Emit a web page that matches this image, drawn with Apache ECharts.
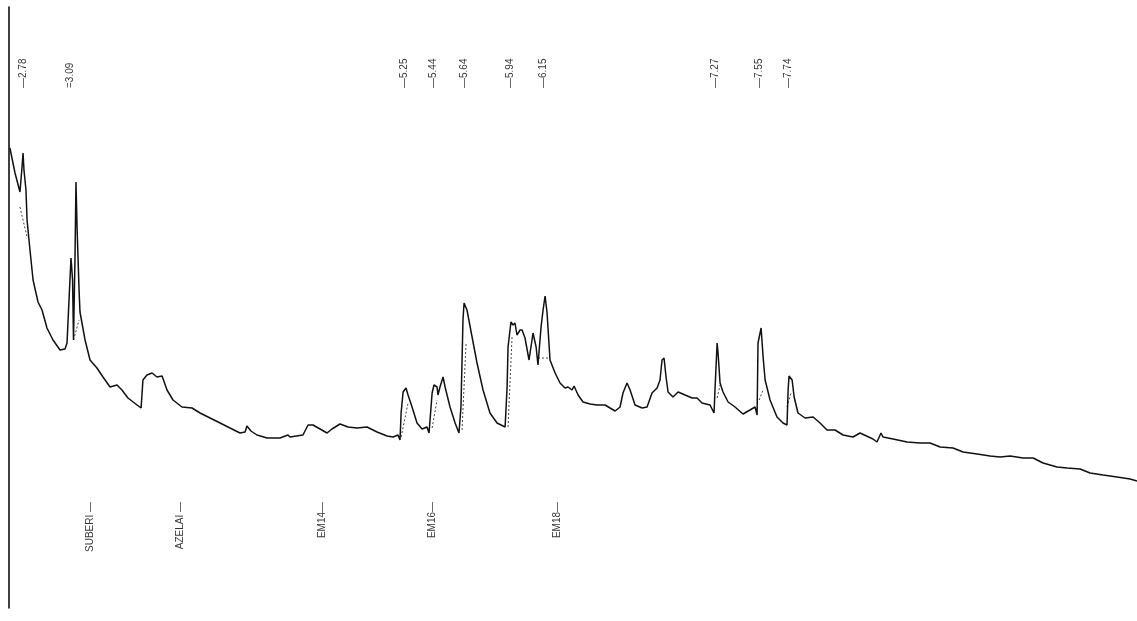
<!DOCTYPE html>
<html>
<head>
<meta charset="utf-8">
<script src="https://cdn.jsdelivr.net/npm/echarts@6/dist/echarts.min.js"></script>
<style>
  html, body { margin: 0; padding: 0; background: #fff; }
  #chart { width: 1137px; height: 621px; }
</style>
</head>
<body>
<div id="chart"></div>
<script>
// Retention time (min) and detector signal
const retentionTimes = [
  2.696, 2.729, 2.761, 2.774, 2.781, 2.787, 2.800, 2.807, 2.826, 2.846, 2.878, 2.904, 2.936, 2.975,
  3.021, 3.053, 3.066, 3.072, 3.085, 3.092, 3.102, 3.108, 3.118, 3.124, 3.131, 3.144, 3.150, 3.183,
  3.215, 3.260, 3.299, 3.345, 3.390, 3.422, 3.461, 3.520, 3.546, 3.558, 3.584, 3.617, 3.649, 3.682,
  3.714, 3.753, 3.811, 3.876, 3.928, 3.993, 4.058, 4.122, 4.187, 4.220, 4.232, 4.258, 4.297, 4.362,
  4.446, 4.498, 4.511, 4.595, 4.628, 4.660, 4.706, 4.751, 4.783, 4.835, 4.887, 4.945, 5.010, 5.075,
  5.140, 5.179, 5.211, 5.224, 5.231, 5.244, 5.263, 5.276, 5.302, 5.334, 5.367, 5.399, 5.412, 5.432,
  5.444, 5.464, 5.470, 5.483, 5.503, 5.516, 5.548, 5.581, 5.606, 5.619, 5.632, 5.639, 5.658, 5.691,
  5.723, 5.762, 5.807, 5.853, 5.905, 5.918, 5.924, 5.943, 5.956, 5.969, 5.982, 6.002, 6.015, 6.034,
  6.060, 6.086, 6.106, 6.118, 6.138, 6.151, 6.164, 6.177, 6.196, 6.229, 6.261, 6.293, 6.313, 6.339,
  6.352, 6.378, 6.410, 6.456, 6.501, 6.553, 6.585, 6.618, 6.650, 6.669, 6.695, 6.715, 6.747, 6.793,
  6.825, 6.857, 6.890, 6.909, 6.922, 6.935, 6.948, 6.961, 6.993, 7.026, 7.071, 7.117, 7.149, 7.181,
  7.233, 7.259, 7.266, 7.279, 7.285, 7.298, 7.317, 7.350, 7.395, 7.447, 7.492, 7.525, 7.538, 7.544,
  7.564, 7.577, 7.590, 7.603, 7.622, 7.667, 7.706, 7.732, 7.739, 7.745, 7.765, 7.778, 7.803, 7.849,
  7.901, 7.946, 7.991, 8.043, 8.095, 8.160, 8.205, 8.289, 8.315, 8.341, 8.354, 8.419, 8.510, 8.594,
  8.659, 8.724, 8.808, 8.873, 8.964, 9.048, 9.113, 9.178, 9.262, 9.327, 9.391, 9.482, 9.547, 9.631,
  9.696, 9.780, 9.871, 9.955, 10.000
];
const signals = [
  460, 435, 416, 440, 455, 438, 418, 388, 358, 328, 306, 298, 280, 268,
  258, 259, 265, 285, 328, 350, 328, 268, 353, 426, 381, 318, 296, 268,
  248, 240, 231, 221, 223, 218, 210, 203, 200, 228, 233, 235, 231, 232,
  218, 208, 201, 200, 195, 190, 185, 180, 175, 176, 182, 177, 173, 170,
  170, 173, 171, 173, 183, 183, 179, 175, 179, 184, 181, 180, 181, 176,
  172, 171, 173, 168, 195, 216, 220, 213, 201, 185, 179, 181, 175, 215,
  223, 221, 213, 221, 231, 221, 201, 185, 175, 201, 288, 305, 298, 271,
  245, 218, 195, 185, 181, 221, 261, 286, 283, 285, 273, 278, 278, 270,
  248, 275, 261, 243, 281, 298, 312, 295, 248, 235, 225, 220, 221, 218,
  222, 213, 206, 204, 203, 203, 200, 197, 201, 215, 225, 218, 203, 200,
  201, 215, 220, 228, 248, 250, 231, 216, 211, 216, 213, 210, 210, 205,
  203, 195, 221, 265, 255, 225, 216, 206, 201, 194, 198, 201, 193, 265,
  280, 251, 228, 220, 208, 191, 185, 183, 218, 232, 228, 211, 195, 190,
  191, 185, 178, 178, 173, 171, 175, 169, 166, 175, 171, 169, 166, 165,
  165, 161, 160, 156, 154, 152, 151, 152, 150, 150, 145, 141, 140, 139,
  135, 133, 131, 129, 127
];
// Dotted baseline drop segments under integrated peaks: [t1, s1, t2, s2]
const baselineSegments = [
  [2.761, 401, 2.807, 371],
  [3.108, 268, 3.144, 288],
  [5.231, 171, 5.276, 205],
  [5.432, 180, 5.464, 208],
  [5.626, 178, 5.652, 265],
  [5.924, 181, 5.950, 271],
  [6.118, 250, 6.183, 250],
  [7.279, 210, 7.298, 223],
  [7.551, 208, 7.577, 218],
  [7.732, 201, 7.758, 215]
];
// Peak retention-time annotations (top)
const peakTimes = [2.78, 3.09, 5.25, 5.44, 5.64, 5.94, 6.15, 7.27, 7.55, 7.74];
const peakTexts = ['—2.78', '=3.09', '—5.25', '—5.44', '—5.64', '—5.94', '—6.15', '—7.27', '—7.55', '—7.74'];
// Compound window annotations (bottom)
const compoundTimes = [3.215, 3.798, 4.719, 5.431, 6.242];
const compoundTexts = ['SUBERI —', 'AZELAI —', 'EM14—', 'EM16—', 'EM18—'];

const chart = echarts.init(document.getElementById('chart'), null, { renderer: 'canvas' });

const traceData = retentionTimes.map((t, i) => [t, signals[i]]);
const TOP_ANCHOR = 520;
const BOTTOM_ANCHOR = 106;

const series = [
  {
    type: 'line',
    data: traceData,
    symbol: 'none',
    smooth: false,
    lineStyle: { color: '#111111', width: 1.5 },
    z: 3
  }
];
baselineSegments.forEach(s => {
  series.push({
    type: 'line',
    data: [[s[0], s[1]], [s[2], s[3]]],
    symbol: 'none',
    lineStyle: { color: '#444', width: 1, type: [2, 2] },
    z: 2
  });
});
const labelStyle = {
  show: true,
  position: 'inside',
  rotate: 90,
  verticalAlign: 'middle',
  formatter: p => p.name,
  fontFamily: 'Liberation Sans, Arial, sans-serif',
  fontSize: 10,
  color: '#000'
};
series.push({
  type: 'scatter',
  symbolSize: 0,
  data: peakTimes.map((t, i) => ({ value: [t, TOP_ANCHOR], name: peakTexts[i] })),
  label: Object.assign({}, labelStyle, { align: 'left' }),
  z: 5
});
series.push({
  type: 'scatter',
  symbolSize: 0,
  data: compoundTimes.map((t, i) => ({ value: [t, BOTTOM_ANCHOR], name: compoundTexts[i] })),
  label: Object.assign({}, labelStyle, { align: 'right' }),
  z: 5
});

chart.setOption({
  animation: false,
  backgroundColor: '#ffffff',
  grid: { left: 9, right: 0, top: 7, bottom: 13, containLabel: false },
  xAxis: {
    type: 'value',
    min: 2.69,
    max: 10.0,
    axisLine: { show: false },
    axisTick: { show: false },
    axisLabel: { show: false },
    splitLine: { show: false }
  },
  yAxis: {
    type: 'value',
    min: 0,
    max: 601,
    axisLine: { show: true, onZero: false, lineStyle: { color: '#000', width: 1.5 } },
    axisTick: { show: false },
    axisLabel: { show: false },
    splitLine: { show: false }
  },
  series: series
});
</script>
</body>
</html>
